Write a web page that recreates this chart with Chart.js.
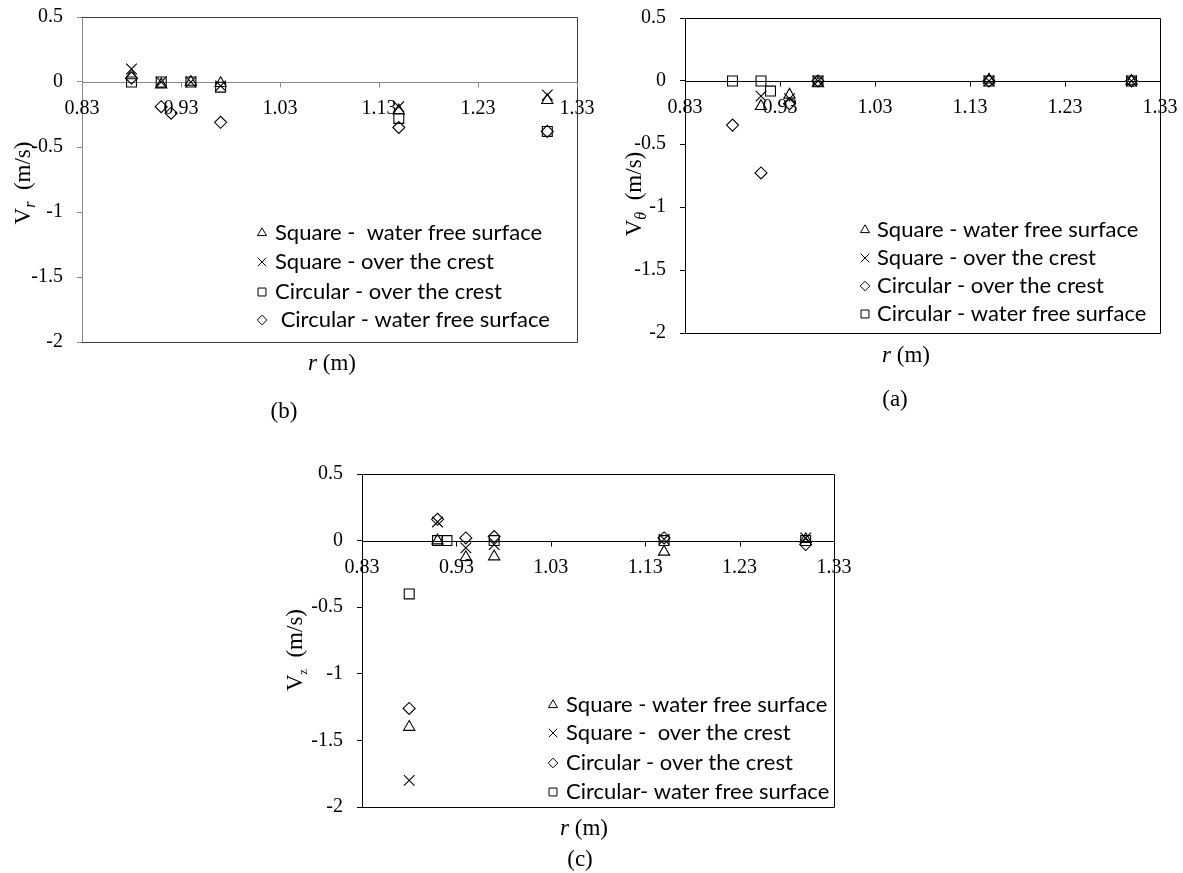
<!DOCTYPE html>
<html>
<head>
<meta charset="utf-8">
<title>Velocity components vs r</title>
<script src="https://cdn.jsdelivr.net/npm/chart.js@4.4.1/dist/chart.umd.min.js"></script>
<style>
  html, body { margin: 0; padding: 0; background: #fff; }
  #wrap { position: relative; width: 1183px; height: 873px; }
  #wrap canvas { position: absolute; left: 0; top: 0; }
</style>
</head>
<body>
<div id="wrap">
  <canvas id="chartB" width="1183" height="873"></canvas>
  <canvas id="chartA" width="1183" height="873"></canvas>
  <canvas id="chartC" width="1183" height="873"></canvas>
</div>
<script>
// radial positions of the measuring stations (m)
const rValues = [0.88, 0.91, 0.92, 0.94, 0.97, 1.15, 1.30];
const xTicks = [0.83, 0.93, 1.03, 1.13, 1.23, 1.33];
const yTicks = [0.5, 0, -0.5, -1, -1.5, -2];

// (b) radial velocity Vr (m/s), null = no measurement
const vrLabels = ['Square -  water free surface', 'Square - over the crest', 'Circular - over the crest', ' Circular - water free surface'];
const vrSquareFree  = [0.05, -0.02, null, 0, -0.01, -0.22, -0.14];
const vrSquareCrest = [0.10, 0, null, 0, -0.03, -0.19, -0.10];
const vrCircCrest   = [0, 0, null, 0, -0.04, -0.28, -0.38];
const vrCircFree    = [0.03, -0.19, -0.24, null, -0.31, -0.35, -0.38];

// (a) tangential velocity Vtheta (m/s)
const vtLabels = ['Square - water free surface', 'Square - over the crest', 'Circular - over the crest', 'Circular - water free surface'];
const vtSquareFree  = [null, -0.20, null, -0.11, -0.02, 0.01, 0];
const vtSquareCrest = [null, -0.12, null, -0.14, 0, 0, 0];
const vtCircCrest   = [-0.35, -0.73, null, -0.18, 0, 0, 0];
const vtCircFree    = [0, 0, -0.08, null, 0, 0, 0];

// (c) vertical velocity Vz (m/s)
const vzLabels = ['Square - water free surface', 'Square -  over the crest', 'Circular - over the crest', 'Circular- water free surface'];
const vzSquareFree  = [-1.40, 0, null, -0.125, -0.12, -0.085, 0.01];
const vzSquareCrest = [-1.80, 0.14, null, -0.055, -0.03, 0.01, 0.02];
const vzCircCrest   = [-1.26, 0.16, null, 0.02, 0.03, 0.02, -0.03];
const vzCircFree    = [-0.40, 0, 0, null, 0, 0, 0];

const PAGE_W = 1183;
const PAGE_H = 873;
const Y_AXIS_W = 60;
const SERIF = '"Liberation Serif", "Times New Roman", serif';
const SANS = 'Lato, "Open Sans", sans-serif';

const markerStyles = {
    triangle: { pointStyle: 'triangle', radius: 6.5 },
    cross:    { pointStyle: 'crossRot', radius: 7.5 },
    square:   { pointStyle: 'rect', radius: 7 },
    diamond:  { pointStyle: 'rectRot', radius: 6 }
};

const panels = [
    {
        id: 'chartB',
        plot: { left: 82, top: 17, right: 577, bottom: 342 },
        axisColor: '#8a8a8a', frameColor: '#3c3c3c',
        names: vrLabels,
        values: [vrSquareFree, vrSquareCrest, vrCircCrest, vrCircFree],
        markers: ['triangle', 'cross', 'square', 'diamond'],
        yTitle: { sub: 'r', subItalic: true, subSize: 16, x: 22, y: 183 },
        xTitle: { x: 332, y: 362 },
        tag: { text: '(b)', x: 284, y: 412 },
        legend: { markerX: 262, textX: 275, rows: [233, 262, 292, 320] }
    },
    {
        id: 'chartA',
        plot: { left: 685, top: 18, right: 1160, bottom: 333 },
        axisColor: '#000', frameColor: '#000',
        names: vtLabels,
        values: [vtSquareFree, vtSquareCrest, vtCircCrest, vtCircFree],
        markers: ['triangle', 'cross', 'diamond', 'square'],
        yTitle: { sub: 'θ', subItalic: true, subSize: 16, x: 633, y: 194 },
        xTitle: { x: 906, y: 354 },
        tag: { text: '(a)', x: 895, y: 400 },
        legend: { markerX: 865, textX: 877, rows: [230, 258, 286, 314] }
    },
    {
        id: 'chartC',
        plot: { left: 362, top: 474, right: 834, bottom: 807 },
        axisColor: '#000', frameColor: '#000',
        names: vzLabels,
        values: [vzSquareFree, vzSquareCrest, vzCircCrest, vzCircFree],
        markers: ['triangle', 'cross', 'diamond', 'square'],
        yTitle: { sub: 'z', subItalic: false, subSize: 12, x: 294, y: 650 },
        xTitle: { x: 584, y: 827 },
        tag: { text: '(c)', x: 580, y: 860 },
        legend: { markerX: 553, textX: 566, rows: [705, 733, 763, 792] }
    }
];

function seriesPoints(values) {
    return rValues
        .map((r, i) => ({ x: r, y: values[i] }))
        .filter(p => p.y !== null);
}

/**
 * Rotated y-axis title: V with a subscript, then (m/s)
 */
function drawYTitle(ctx, t) {
    const big = '23px ' + SERIF;
    const small = (t.subItalic ? 'italic ' : '') + t.subSize + 'px ' + SERIF;
    ctx.save();
    ctx.translate(t.x, t.y);
    ctx.rotate(-Math.PI / 2);
    ctx.font = big;
    const wV = ctx.measureText('V').width;
    const wRest = ctx.measureText('  (m/s)').width;
    ctx.font = small;
    const wSub = ctx.measureText(t.sub).width;
    let cx = -(wV + wSub + wRest) / 2;
    ctx.fillStyle = '#000';
    ctx.textAlign = 'left';
    ctx.textBaseline = 'alphabetic';
    ctx.font = big;
    ctx.fillText('V', cx, 8);
    cx += wV;
    ctx.font = small;
    ctx.fillText(t.sub, cx, 13);
    cx += wSub;
    ctx.font = big;
    ctx.fillText('  (m/s)', cx, 8);
    ctx.restore();
}

function drawXTitle(ctx, t) {
    const italic = 'italic 23px ' + SERIF;
    const normal = '23px ' + SERIF;
    ctx.save();
    ctx.font = italic;
    const wR = ctx.measureText('r').width;
    ctx.font = normal;
    const wRest = ctx.measureText(' (m)').width;
    let cx = t.x - (wR + wRest) / 2;
    ctx.fillStyle = '#000';
    ctx.textAlign = 'left';
    ctx.textBaseline = 'alphabetic';
    ctx.font = italic;
    ctx.fillText('r', cx, t.y + 8);
    ctx.font = normal;
    ctx.fillText(' (m)', cx + wR, t.y + 8);
    ctx.restore();
}

function panelPlugin(p) {
    return {
        id: 'panel_' + p.id,
        beforeDatasetsDraw(chart) {
            const { ctx, chartArea: a, scales: { x, y } } = chart;
            ctx.save();
            ctx.lineWidth = 1;
            // plot frame (left side is the y axis)
            ctx.strokeStyle = p.frameColor;
            ctx.beginPath();
            ctx.moveTo(a.left, a.top + 0.5);
            ctx.lineTo(a.right + 0.5, a.top + 0.5);
            ctx.lineTo(a.right + 0.5, a.bottom + 0.5);
            ctx.lineTo(a.left, a.bottom + 0.5);
            ctx.stroke();
            // horizontal axis crossing at y = 0
            const y0 = Math.round(y.getPixelForValue(0)) + 0.5;
            ctx.strokeStyle = p.axisColor;
            ctx.beginPath();
            ctx.moveTo(a.left, y0);
            ctx.lineTo(a.right, y0);
            xTicks.forEach(v => {
                const px = Math.round(x.getPixelForValue(v)) + 0.5;
                ctx.moveTo(px, y0);
                ctx.lineTo(px, y0 + 5);
            });
            ctx.stroke();
            ctx.fillStyle = '#000';
            ctx.font = '20px ' + SERIF;
            ctx.textAlign = 'center';
            ctx.textBaseline = 'alphabetic';
            xTicks.forEach(v => ctx.fillText(v.toFixed(2), x.getPixelForValue(v), y0 + 31));
            ctx.restore();
        },
        afterDraw(chart) {
            const ctx = chart.ctx;
            drawYTitle(ctx, p.yTitle);
            drawXTitle(ctx, p.xTitle);

            ctx.save();
            ctx.fillStyle = '#000';
            ctx.font = '23px ' + SERIF;
            ctx.textAlign = 'center';
            ctx.textBaseline = 'middle';
            ctx.fillText(p.tag.text, p.tag.x, p.tag.y);

            // legend inside the plot area
            ctx.font = '22px ' + SANS;
            ctx.textAlign = 'left';
            p.names.forEach((name, i) => {
                const m = markerStyles[p.markers[i]];
                const rowY = p.legend.rows[i];
                ctx.strokeStyle = '#000';
                ctx.fillStyle = 'rgba(0,0,0,0)';
                ctx.lineWidth = 1;
                Chart.helpers.drawPoint(ctx, {
                    pointStyle: m.pointStyle,
                    radius: m.radius * 0.8,
                    borderWidth: 1,
                    rotation: 0
                }, p.legend.markerX, rowY);
                ctx.fillStyle = '#000';
                ctx.fillText(name, p.legend.textX, rowY);
            });
            ctx.restore();
        }
    };
}

function initPanel(p) {
    const datasets = p.values.map((vals, i) => {
        const m = markerStyles[p.markers[i]];
        return {
            label: p.names[i],
            data: seriesPoints(vals),
            pointStyle: m.pointStyle,
            pointRadius: m.radius,
            pointHoverRadius: m.radius,
            borderColor: '#000',
            backgroundColor: 'rgba(0,0,0,0)',
            pointBorderWidth: 1.1,
            borderWidth: 1
        };
    });

    new Chart(document.getElementById(p.id), {
        type: 'scatter',
        data: { datasets: datasets },
        options: {
            responsive: false,
            animation: false,
            events: [],
            layout: {
                padding: {
                    left: p.plot.left - Y_AXIS_W,
                    top: p.plot.top,
                    right: PAGE_W - p.plot.right,
                    bottom: PAGE_H - p.plot.bottom
                }
            },
            plugins: {
                legend: { display: false },
                tooltip: { enabled: false }
            },
            scales: {
                x: { type: 'linear', min: 0.83, max: 1.33, display: false },
                y: {
                    type: 'linear',
                    position: 'left',
                    min: -2,
                    max: 0.5,
                    afterBuildTicks: scale => { scale.ticks = yTicks.map(v => ({ value: v })); },
                    afterFit: scale => {
                        // fixed axis width, and no extra room above/below for the end labels
                        scale.width = Y_AXIS_W;
                        scale.paddingTop = 0;
                        scale.paddingBottom = 0;
                    },
                    ticks: {
                        font: { family: SERIF, size: 20 },
                        color: '#000',
                        padding: 14,
                        callback: value => String(value)
                    },
                    grid: {
                        drawOnChartArea: false,
                        drawTicks: true,
                        tickLength: 5,
                        color: p.axisColor
                    },
                    border: { display: true, color: p.axisColor, width: 1 }
                }
            }
        },
        plugins: [panelPlugin(p)]
    });
}

document.addEventListener('DOMContentLoaded', function() {
    panels.forEach(initPanel);
});
</script>
</body>
</html>
